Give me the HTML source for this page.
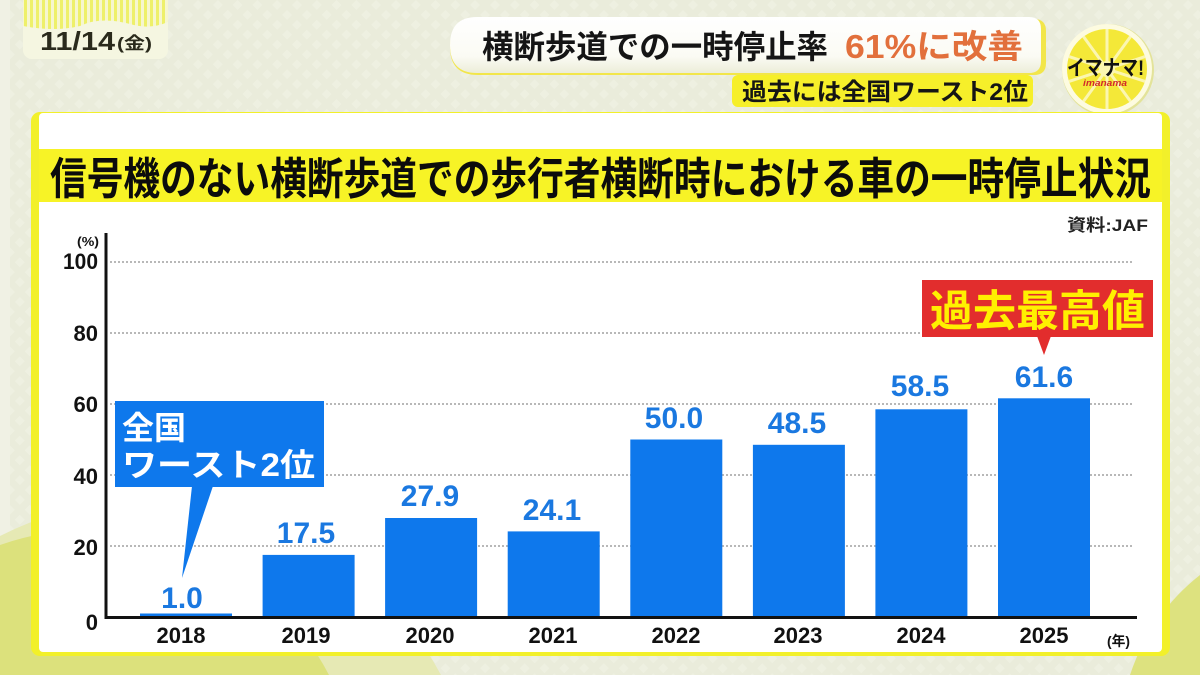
<!DOCTYPE html>
<html><head><meta charset="utf-8">
<style>
html,body{margin:0;padding:0;width:1200px;height:675px;overflow:hidden;background:#eaecdb;}
svg{display:block;overflow:hidden;}
text{font-family:"Liberation Sans","Noto Sans CJK JP",sans-serif;}
</style></head>
<body>
<svg width="1200" height="675" viewBox="0 0 1200 675" xmlns="http://www.w3.org/2000/svg">
<defs>
<pattern id="stripes" x="0" y="0" width="6" height="10" patternUnits="userSpaceOnUse">
<rect width="6" height="10" fill="#f6f6cf"/>
<rect width="3" height="10" fill="#eef06a"/>
</pattern>
<linearGradient id="pillg" x1="0" y1="0" x2="0" y2="1">
<stop offset="0" stop-color="#ffffff"/>
<stop offset="0.7" stop-color="#fbfbf4"/>
<stop offset="1" stop-color="#ecedd9"/>
</linearGradient>
<pattern id="tex" width="14" height="14" patternUnits="userSpaceOnUse" patternTransform="rotate(45)">
<rect width="14" height="14" fill="#eaecdb"/>
<rect width="7" height="7" fill="#eef0e1"/>
</pattern>
</defs>

<!-- background -->
<rect width="1200" height="675" fill="url(#tex)"/>
<rect x="0" y="0" width="10" height="675" fill="#f0f1e4"/>
<path d="M0 536 A330 330 0 0 1 441 675 L0 675 Z" fill="#e6e9b4"/>
<path d="M0 545 A270 270 0 0 1 329 675 L0 675 Z" fill="#dce17c"/>
<path d="M1130 675 A210 210 0 0 1 1200 575 L1200 675 Z" fill="#dde27f"/>

<!-- date box -->
<rect x="23" y="0" width="145" height="59" rx="9" fill="#f5f6e1"/>
<path d="M23 0 H168 V22 Q150 30 130 24 Q100 16 80 26 Q55 32 23 26 Z" fill="url(#stripes)"/>
<text x="40" y="50" font-size="26" font-weight="bold" fill="#2a2a1c" textLength="75" lengthAdjust="spacingAndGlyphs">11/14</text>
<text x="117" y="49" font-size="17" font-weight="bold" fill="#2a2a1c" textLength="35" lengthAdjust="spacingAndGlyphs">(金)</text>

<!-- title pill -->
<path d="M478 19 H1034 Q1046 19 1046 31 V63 Q1046 75 1034 75 H478 Q450 75 450 47 Q450 19 478 19 Z" fill="#f2e64a"/>
<path d="M477 17 H1029 Q1041 17 1041 29 V61 Q1041 73 1029 73 H477 Q450 73 450 45 Q450 17 477 17 Z" fill="url(#pillg)"/>
<text x="482" y="58" font-size="32" font-weight="bold" fill="#151515" textLength="346" lengthAdjust="spacingAndGlyphs">横断歩道での一時停止率</text>
<text x="845" y="58" font-size="33" font-weight="bold" fill="#e2703c" textLength="178" lengthAdjust="spacingAndGlyphs">61%に改善</text>

<!-- subtitle -->
<rect x="732" y="75" width="301" height="32" rx="6" fill="#f6ef2a"/>
<text x="742" y="100" font-size="24" font-weight="bold" fill="#151515" textLength="286" lengthAdjust="spacingAndGlyphs">過去には全国ワースト2位</text>

<!-- logo -->
<circle cx="1108" cy="70" r="46" fill="#e3e39a"/>
<circle cx="1107" cy="69" r="45" fill="#fdfbe0"/>
<circle cx="1107" cy="69" r="40" fill="#f4e838"/>
<g stroke="#fbf6b0" stroke-width="3">
<line x1="1107" y1="69" x2="1107" y2="29"/>
<line x1="1107" y1="69" x2="1130.5" y2="36.6"/>
<line x1="1107" y1="69" x2="1145" y2="56.6"/>
<line x1="1107" y1="69" x2="1145" y2="81.4"/>
<line x1="1107" y1="69" x2="1130.5" y2="101.4"/>
<line x1="1107" y1="69" x2="1107" y2="109"/>
<line x1="1107" y1="69" x2="1083.5" y2="101.4"/>
<line x1="1107" y1="69" x2="1069" y2="81.4"/>
<line x1="1107" y1="69" x2="1069" y2="56.6"/>
<line x1="1107" y1="69" x2="1083.5" y2="36.6"/>
</g>
<circle cx="1107" cy="69" r="8" fill="#fbf6b0"/>
<text x="1067" y="75" font-size="21" font-weight="bold" fill="#111" textLength="77" lengthAdjust="spacingAndGlyphs">イマナマ!</text>
<text x="1083" y="86" font-size="9" font-weight="bold" font-style="italic" fill="#d22a2a" textLength="44" lengthAdjust="spacingAndGlyphs">imanama</text>

<!-- chart panel -->
<rect x="31" y="112" width="1139" height="544" rx="9" fill="#f2f02a"/>
<rect x="39" y="113" width="1123" height="539" rx="4" fill="#ffffff"/>

<!-- title band -->
<rect x="39" y="149" width="1123" height="53" fill="#f7f326"/>
<text x="50" y="194" font-size="44" font-weight="bold" fill="#0c0c0c" textLength="1101" lengthAdjust="spacingAndGlyphs">信号機のない横断歩道での歩行者横断時における車の一時停止状況</text>

<text x="1148" y="231" font-size="17" font-weight="bold" fill="#222" text-anchor="end" textLength="81" lengthAdjust="spacingAndGlyphs">資料:JAF</text>

<!-- gridlines -->
<g stroke="#b8b8b8" stroke-width="2" stroke-dasharray="2 2">
<line x1="110" y1="262" x2="1132" y2="262"/>
<line x1="110" y1="333" x2="1132" y2="333"/>
<line x1="110" y1="404" x2="1132" y2="404"/>
<line x1="110" y1="475" x2="1132" y2="475"/>
<line x1="110" y1="546" x2="1132" y2="546"/>
</g>

<!-- y labels -->
<g font-size="22" font-weight="bold" fill="#111" text-anchor="end">
<text x="98" y="269" textLength="35" lengthAdjust="spacingAndGlyphs">100</text>
<text x="98" y="341">80</text>
<text x="98" y="412">60</text>
<text x="98" y="484">40</text>
<text x="98" y="555">20</text>
<text x="98" y="630">0</text>
</g>
<text x="77" y="246" font-size="13" font-weight="bold" fill="#111" textLength="22" lengthAdjust="spacingAndGlyphs">(%)</text>

<!-- bars -->
<g fill="#0e78ec">
<rect x="140" y="613.5" width="92" height="4"/>
<rect x="262.6" y="554.9" width="92" height="62.1"/>
<rect x="385.1" y="518" width="92" height="99"/>
<rect x="507.7" y="531.4" width="92" height="85.6"/>
<rect x="630.3" y="439.5" width="92" height="177.5"/>
<rect x="752.9" y="444.8" width="92" height="172.2"/>
<rect x="875.4" y="409.3" width="92" height="207.7"/>
<rect x="998" y="398.3" width="92" height="218.7"/>
</g>

<!-- axes -->
<line x1="106" y1="233" x2="106" y2="619" stroke="#111" stroke-width="3"/>
<line x1="105" y1="617.5" x2="1137" y2="617.5" stroke="#111" stroke-width="3"/>

<!-- value labels -->
<g font-size="30" font-weight="bold" fill="#1a78e0" text-anchor="middle">
<text x="182" y="608">1.0</text>
<text x="306" y="543">17.5</text>
<text x="430" y="506">27.9</text>
<text x="552" y="520">24.1</text>
<text x="674" y="428">50.0</text>
<text x="797" y="433">48.5</text>
<text x="920" y="396">58.5</text>
<text x="1044" y="387">61.6</text>
</g>

<!-- x labels -->
<g font-size="22" font-weight="bold" fill="#111" text-anchor="middle">
<text x="181" y="643">2018</text>
<text x="306" y="643">2019</text>
<text x="430" y="643">2020</text>
<text x="553" y="643">2021</text>
<text x="676" y="643">2022</text>
<text x="798" y="643">2023</text>
<text x="921" y="643">2024</text>
<text x="1044" y="643">2025</text>
</g>
<text x="1107" y="646" font-size="14" font-weight="bold" fill="#111" textLength="23" lengthAdjust="spacingAndGlyphs">(年)</text>

<!-- callout 全国ワースト2位 -->
<rect x="115" y="401" width="209" height="86" fill="#0e78ec"/>
<polygon points="192,486 213,486 182,578" fill="#0e78ec"/>
<text x="122" y="439" font-size="32" font-weight="bold" fill="#fff" textLength="64" lengthAdjust="spacingAndGlyphs">全国</text>
<text x="122" y="476" font-size="32" font-weight="bold" fill="#fff" textLength="193" lengthAdjust="spacingAndGlyphs">ワースト2位</text>

<!-- callout 過去最高値 -->
<rect x="922" y="280" width="231" height="57" fill="#e22d2d"/>
<polygon points="1037,336 1051,336 1044,355" fill="#e22d2d"/>
<text x="930" y="326" font-size="43" font-weight="bold" fill="#fff000" textLength="215" lengthAdjust="spacingAndGlyphs">過去最高値</text>
</svg>
</body></html>
